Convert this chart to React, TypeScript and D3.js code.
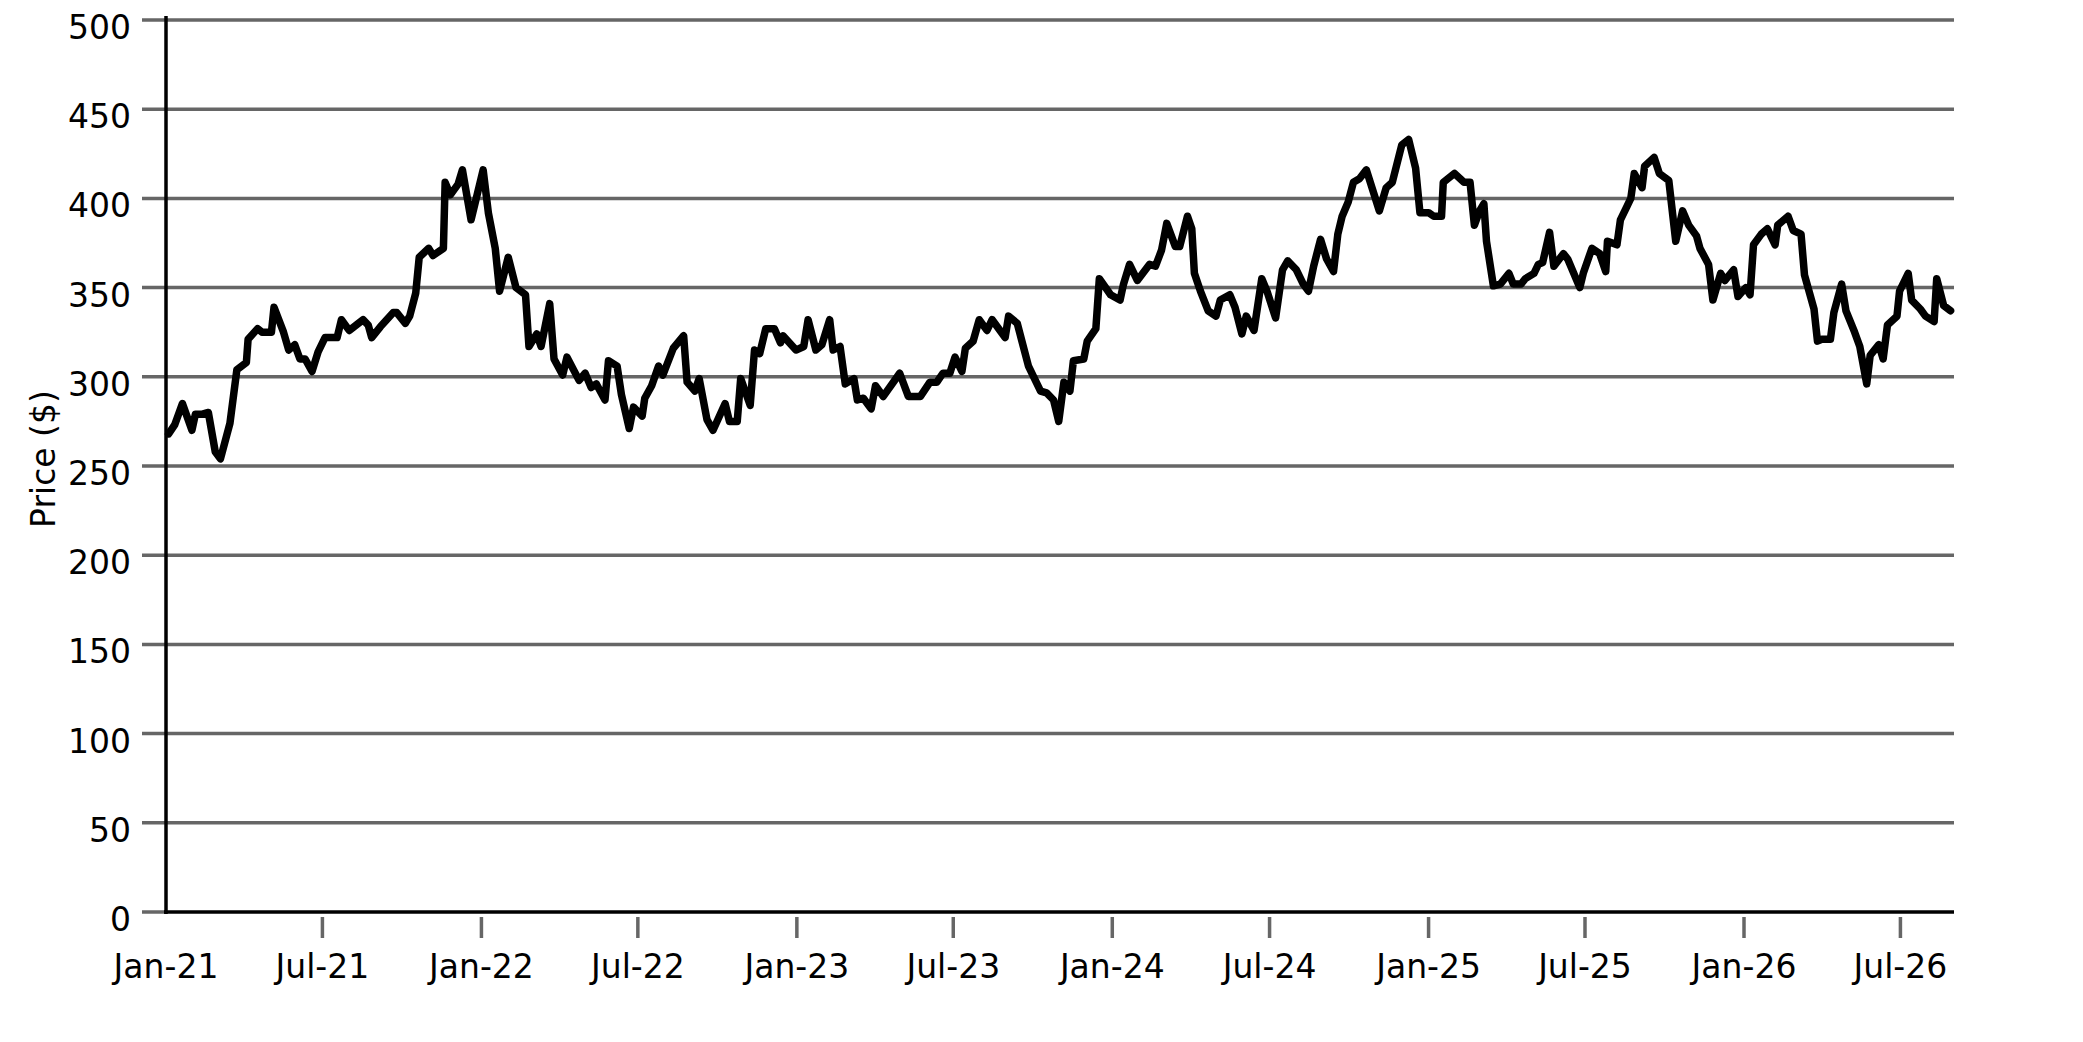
import React from "react";
import * as d3 from "d3";

// weekly price, x = days after 1 Jan 2021
const startDate = new Date(2021, 0, 1);
const endDate = new Date(2026, 8, 1);

const daysFromStart = [
  3, 10, 19, 30, 34, 41, 49, 57, 63, 74, 82, 93, 95, 106, 111, 122, 125, 136, 142, 149, 155, 161, 169, 176, 184, 198, 203, 212, 228, 234, 238, 248, 263, 267, 277, 282, 289, 293, 304, 309, 321, 323, 329, 338,
  343, 353, 367, 373, 381, 386, 396, 405, 416, 420, 429, 434, 444, 449, 459, 464, 478, 485, 492, 498, 508, 512, 522, 527, 536, 541, 551, 554, 562, 570, 575, 587, 599, 603, 612, 617, 626, 633, 647, 652, 661, 665, 676, 681, 687,
  694, 704, 711, 714, 729, 738, 743, 752, 759, 768, 772, 780, 786, 796, 800, 807, 816, 821, 830, 849, 859, 873, 884, 892, 899, 907, 913, 921, 925, 934, 941, 950, 956, 971, 975, 985, 998, 1012, 1019, 1027, 1033,
  1039, 1046, 1050, 1062, 1066, 1076, 1080, 1093, 1104, 1108, 1115, 1124, 1138, 1145, 1152, 1158, 1168, 1173, 1182, 1187, 1190, 1197, 1206, 1215, 1220, 1231, 1237, 1245, 1250, 1259, 1268, 1274, 1284, 1292, 1298, 1308, 1316, 1322, 1328, 1336, 1343, 1351, 1356, 1361, 1368, 1374, 1381,
  1389, 1404, 1412, 1419, 1430, 1438, 1446, 1451, 1461, 1467, 1476, 1478, 1491, 1502, 1509, 1514, 1520, 1525, 1528, 1536, 1544, 1554, 1559, 1568, 1573, 1583, 1588, 1593, 1601, 1606, 1617, 1622, 1636, 1640, 1650, 1659, 1666, 1668, 1679, 1683, 1691, 1695, 1699, 1708, 1711, 1722, 1728,
  1739, 1747, 1755, 1762, 1771, 1775, 1785, 1790, 1799, 1804, 1814, 1819, 1828, 1833, 1837, 1846, 1853, 1862, 1865, 1877, 1883, 1892, 1896, 1907, 1911, 1916, 1926, 1930, 1939, 1944, 1954, 1960, 1968, 1972, 1982, 1987, 1992, 2003, 2006, 2016, 2020, 2030, 2036, 2046, 2049, 2057, 2065,
];

const price = [
  268, 273, 285, 270, 279, 279, 280, 258, 254, 274, 304, 308, 321, 327, 325, 325, 339, 325, 315, 318, 310, 310, 303, 314, 322, 322, 332, 326, 332, 329, 322, 328, 336, 336, 330, 334, 347, 367, 372, 368, 372, 409, 402, 408,
  416, 388, 416, 392, 372, 348, 367, 350, 346, 317, 324, 317, 341, 310, 301, 311, 298, 302, 294, 296, 287, 309, 306, 290, 271, 283, 278, 288, 295, 306, 301, 316, 323, 297, 292, 299, 276, 270, 285, 275, 275, 299, 284, 315, 313,
  327, 327, 319, 323, 315, 317, 332, 315, 318, 332, 315, 317, 296, 299, 287, 288, 282, 295, 289, 302, 289, 289, 297, 297, 302, 302, 311, 303, 316, 320, 332, 326, 332, 322, 334, 330, 306, 292, 291, 287, 275,
  297, 292, 309, 310, 320, 327, 355, 346, 343, 352, 363, 354, 363, 362, 371, 386, 373, 373, 390, 383, 358, 348, 337, 334, 343, 346, 339, 324, 334, 326, 355, 348, 333, 360, 365, 360, 352, 348, 362, 377, 366, 359, 380, 390, 398, 409, 411,
  416, 393, 406, 409, 430, 433, 417, 392, 392, 390, 390, 409, 414, 409, 409, 385, 393, 397, 376, 351, 352, 358, 352, 352, 355, 358, 363, 364, 381, 362, 369, 366, 350, 358, 372, 369, 359, 376, 374, 388, 396, 400, 414, 406, 418, 423, 414,
  410, 376, 393, 385, 379, 372, 363, 343, 358, 354, 360, 345, 350, 346, 374, 380, 383, 374, 385, 390, 382, 380, 357, 338, 320, 321, 321, 336, 352, 337, 325, 317, 296, 312, 318, 310, 329, 334, 348, 358, 343, 338, 334, 331, 355, 340, 337,
];

const tickLabels = ["Jan-21", "Jul-21", "Jan-22", "Jul-22", "Jan-23", "Jul-23", "Jan-24", "Jul-24", "Jan-25", "Jul-25", "Jan-26", "Jul-26"];
const yTicks = [0, 50, 100, 150, 200, 250, 300, 350, 400, 450, 500];

const W = 2083;
const H = 1042;
const FONT = "DejaVu Sans";
const GRID = "#666666";

const App = () => {
  const x = d3.scaleTime().domain([startDate, endDate]).range([166, 1954]);
  const y = d3.scaleLinear().domain([0, 500]).range([912, 20]);
  const parse = d3.timeParse("%b-%y");

  const pts = daysFromStart.map((d, i) => ({ date: d3.timeDay.offset(startDate, d), v: price[i] }));
  const line = d3
    .line<{ date: Date; v: number }>()
    .x((d) => x(d.date))
    .y((d) => y(d.v));

  return (
    <svg width={W} height={H} style={{ position: "absolute", left: 0, top: 0, background: "#fff" }} fontFamily={FONT}>
      {/* grid + y ticks */}
      {yTicks.map((t) => (
        <g key={t}>
          <line x1={142} x2={t > 0 ? 1954 : 166} y1={y(t)} y2={y(t)} stroke={GRID} strokeWidth={3.5} />
          <text x={131} y={y(t) + 19} textAnchor="end" fontSize={33} fill="#000">
            {t}
          </text>
        </g>
      ))}

      {/* x ticks */}
      {tickLabels.map((lab, i) => {
        const px = x(parse(lab) as Date);
        return (
          <g key={lab}>
            {i > 0 && <line x1={px} x2={px} y1={917} y2={938} stroke={GRID} strokeWidth={3.5} />}
            <text x={px} y={978} textAnchor="middle" fontSize={33} fill="#000">
              {lab}
            </text>
          </g>
        );
      })}

      {/* spines */}
      <line x1={166} x2={166} y1={16} y2={914} stroke="#000" strokeWidth={3.5} />
      <line x1={164} x2={1954} y1={912} y2={912} stroke="#000" strokeWidth={3.5} />

      <path d={line(pts) || ""} fill="none" stroke="#000" strokeWidth={7.5} strokeLinejoin="round" strokeLinecap="round" />

      <text transform="translate(55,459) rotate(-90)" textAnchor="middle" fontSize={33} fill="#000">
        Price ($)
      </text>
    </svg>
  );
};

export default App;
